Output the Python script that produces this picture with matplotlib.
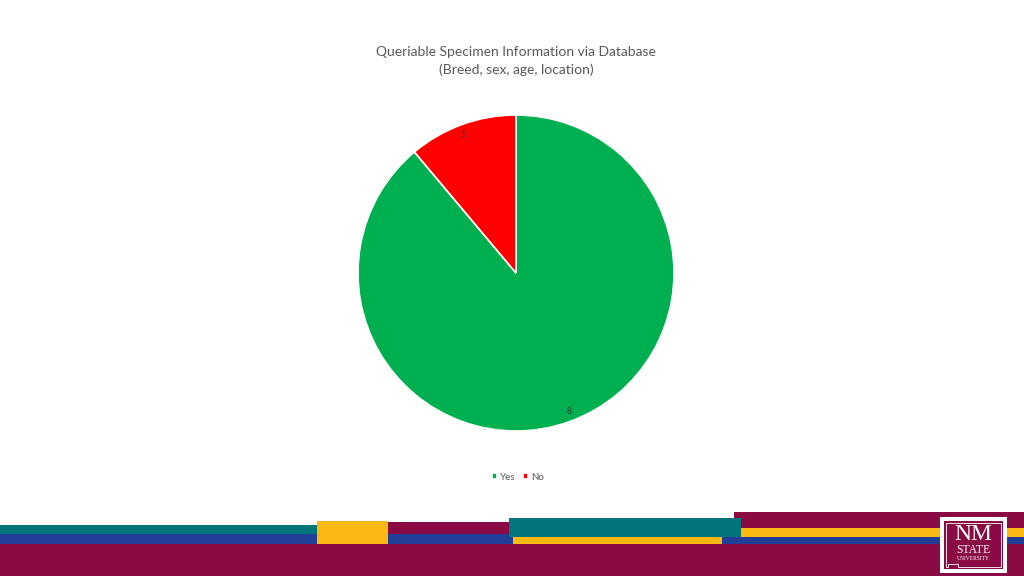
import matplotlib
matplotlib.use('Agg')
import matplotlib.pyplot as plt
from matplotlib.patches import Rectangle, Polygon

# Daten
labels = ['Yes', 'No']
values = [8, 1]
colors = ['#00B050', '#FF0000']

title = 'Queriable Specimen Information via Database\n(Breed, sex, age, location)'

W, H = 1024, 576
fig = plt.figure(figsize=(W / 100, H / 100), dpi=100)
fig.patch.set_facecolor('white')

# Pie
cx, cy, r = 516, 273, 158
ax = fig.add_axes([(cx - r) / W, (H - cy - r) / H, 2 * r / W, 2 * r / H])
wedges, texts = ax.pie(values, colors=colors, labels=[str(v) for v in values],
                       startangle=90, counterclock=False, labeldistance=0.93,
                       wedgeprops=dict(edgecolor='white', linewidth=1.2),
                       textprops=dict(fontsize=6.5, color='#404040', family='Lato'))
ax.set_xlim(-1, 1)
ax.set_ylim(-1, 1)
ax.set_aspect('equal')

fig.text(cx / W, 1 - 61 / H, title, ha='center', va='center', fontsize=10,
         color='#595959', family='Lato', linespacing=1.55)

leg = fig.legend(wedges, labels, loc='center', bbox_to_anchor=(518 / W, 1 - 477 / H),
                 ncol=2, frameon=False, handlelength=0.5, handleheight=0.5,
                 handletextpad=0.4, columnspacing=0.7, prop=dict(family='Lato', size=7))
for t in leg.get_texts():
    t.set_color('#595959')

# Banner unten
bx = fig.add_axes([0, 0, 1, 1], zorder=-1)
bx.set_xlim(0, W)
bx.set_ylim(H, 0)
bx.axis('off')

teal = '#00757A'
blue = '#213F99'
maroon = '#8A0B43'
yellow = '#FDB913'

blocks = [
    (0, 525, 317, 9, teal),
    (0, 534, 317, 10, blue),
    (317, 521, 71, 23, yellow),
    (388, 522, 121, 12, maroon),
    (388, 534, 130, 10, blue),
    (718, 537, 306, 7, blue),
    (513, 537, 209, 7, yellow),
    (734, 512, 290, 16, maroon),
    (741, 528, 283, 9, yellow),
    (509, 518, 232, 19, teal),
    (0, 544, 1024, 32, maroon),
]
for x, y, w, h, c in blocks:
    bx.add_patch(Rectangle((x, y), w, h, facecolor=c, edgecolor='none'))

# Logo
bx.add_patch(Rectangle((940, 517), 67, 56, facecolor='white', edgecolor='none'))
bx.add_patch(Rectangle((944, 521), 59, 48, facecolor=maroon, edgecolor='none'))
bx.add_patch(Polygon([(946, 523), (1001, 523), (1001, 567), (958, 567), (958, 564),
                      (948, 564), (948, 567), (946, 567)], closed=True,
                     fill=False, edgecolor='white', linewidth=0.6))
bx.text(973.5, 535, 'NM', ha='center', va='center', fontsize=17, color='white',
        family='Liberation Serif')
bx.text(973.5, 550, 'STATE', ha='center', va='center', fontsize=8.5, color='white',
        family='Liberation Serif')
bx.text(973.5, 558, 'UNIVERSITY', ha='center', va='center', fontsize=4, color='white',
        family='Liberation Serif')

fig.savefig('out.png', dpi=100)
